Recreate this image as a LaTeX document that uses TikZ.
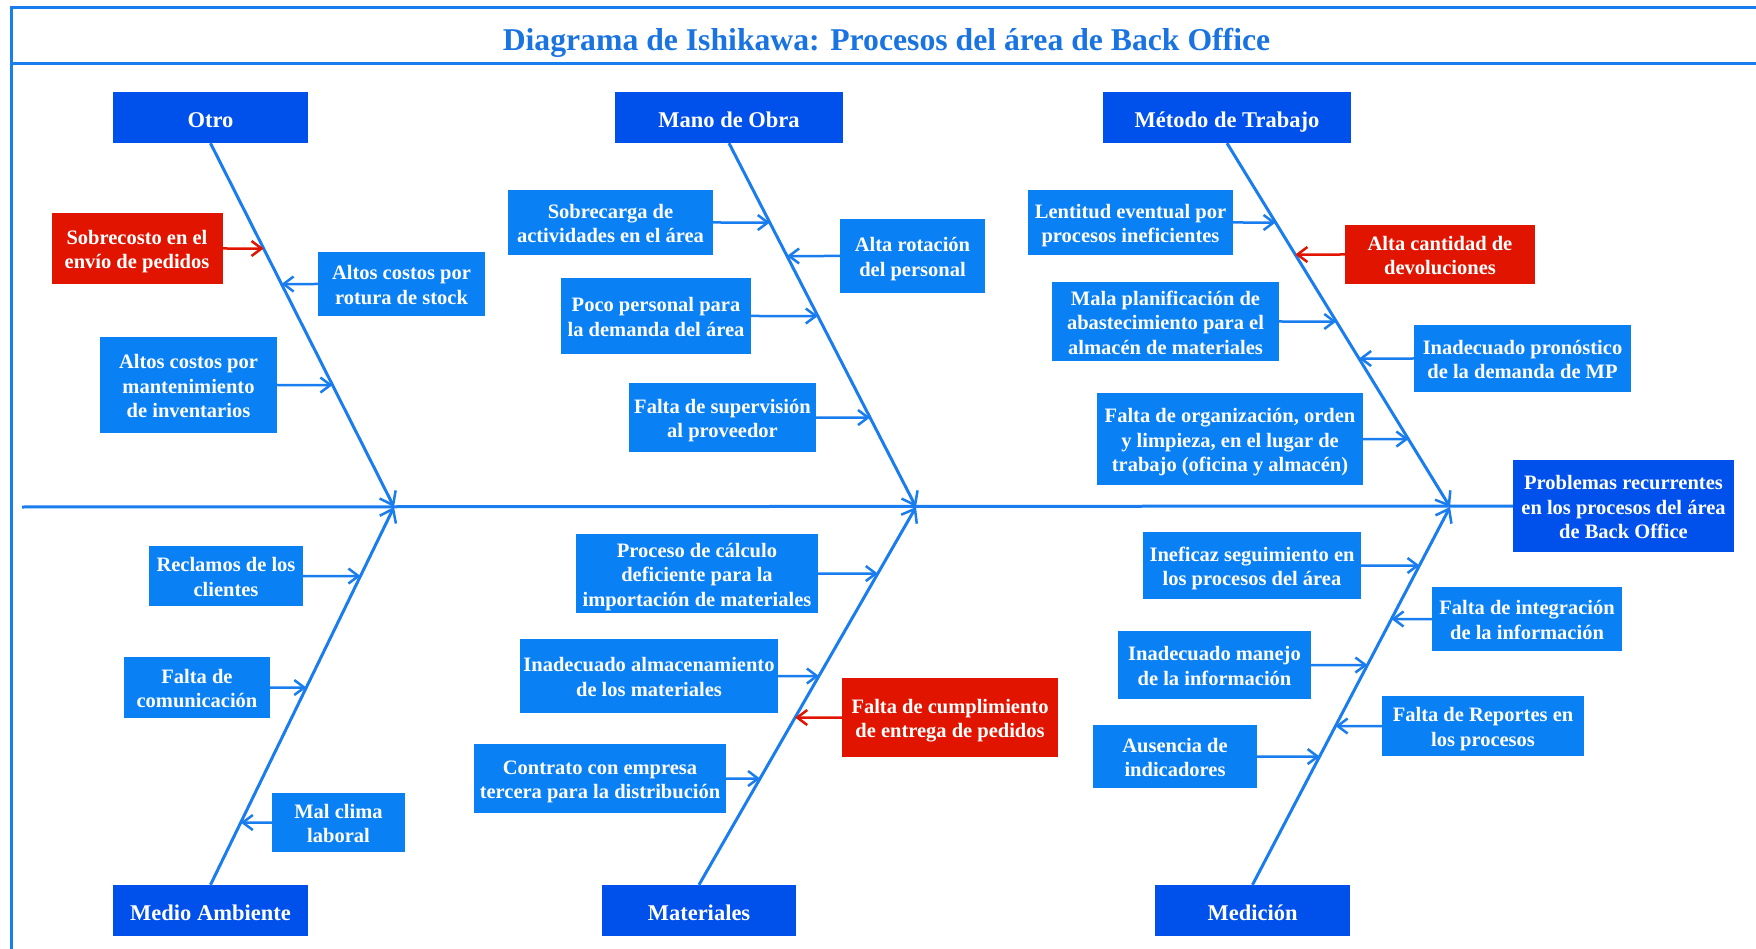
\documentclass[tikz,border=0pt]{standalone}
\usepackage{fontspec}
\setmainfont{Liberation Serif}
\usetikzlibrary{arrows.meta}

\definecolor{causeblue}{RGB}{10,128,245}
\definecolor{catblue}{RGB}{0,80,235}
\definecolor{alertred}{RGB}{225,20,0}
\definecolor{linkblue}{RGB}{25,125,240}
\definecolor{titleblue}{RGB}{25,115,225}

% text block with a fixed first-line height and last-line depth
\newcommand\blk[1]{\rule{0pt}{1.02em}#1\vphantom{gp}}

\tikzset{
  cause/.style={fill=causeblue, text=white, align=center, inner sep=0pt,
    font=\bfseries\fontsize{20.5}{24.6}\selectfont},
  alert/.style={cause, fill=alertred},
  category/.style={fill=catblue, text=white, align=center, inner sep=0pt,
    execute at begin node=\rule{0pt}{1.15em}, execute at end node=\vphantom{gp},
    font=\bfseries\fontsize{22.5}{27}\selectfont, minimum height=51pt},
  effect/.style={fill=catblue, text=white, align=center, inner sep=0pt,
    font=\bfseries\fontsize{20.5}{24.6}\selectfont},
  frame/.style={draw=linkblue, line width=3pt},
  bone/.style={draw=linkblue, line width=3pt,
    -{Straight Barb[length=12pt,width=18pt,line width=2.5pt]}},
  feed/.style={draw=linkblue, line width=2.5pt,
    -{Straight Barb[length=10pt,width=15pt]}},
  feedred/.style={feed, draw=alertred},
}

\begin{document}
\begin{tikzpicture}[x=1pt,y=-1pt]
\useasboundingbox (0,0) rectangle (1756,949);

% frame and title band
\draw[frame] (11,949) -- (11,8) -- (1756,8);
\draw[frame] (11,64) -- (1756,64);
\node[anchor=base, text=titleblue, font=\bfseries\fontsize{31.7}{38}\selectfont]
  (title) at (886.5,51) {Diagrama de Ishikawa: Procesos del área de Back Office};

% effect
\node[effect, minimum width=221pt, minimum height=92pt] (effect) at (1623.5,506)
  {\blk{Problemas recurrentes\\en los procesos del área\\de Back Office}};

% spine
\coordinate (start) at (22,507);
\coordinate (j1) at (394,507);
\coordinate (j2) at (916,507);
\coordinate (j3) at (1450,507);
\draw[frame] (start) -- (effect.west);

% categories
\node[category, minimum width=195pt] (otro) at (210.5,117.5) {Otro};
\node[category, minimum width=228pt] (mano) at (729,117.5) {Mano de Obra};
\node[category, minimum width=248pt] (metodo) at (1227,117.5) {Método de Trabajo};
\node[category, minimum width=195pt] (medio) at (210.5,910.5) {Medio Ambiente};
\node[category, minimum width=194pt] (mater) at (699,910.5) {Materiales};
\node[category, minimum width=195pt] (medic) at (1252.5,910.5) {Medición};

% bones
\draw[bone] (otro.south) -- (j1);
\draw[bone] (mano.south) -- (j2);
\draw[bone] (metodo.south) -- (j3);
\draw[bone] (medio.north) -- (j1);
\draw[bone] (mater.north) -- (j2);
\draw[bone] (medic.north) -- (j3);

% causes: Otro
\node[alert, minimum width=171pt, minimum height=71pt] (c1) at (137,248.5) {\blk{Sobrecosto en el\\envío de pedidos}};
\node[cause, minimum width=167pt, minimum height=64pt] (c2) at (401.5,284) {\blk{Altos costos por\\rotura de stock}};
\node[cause, minimum width=177pt, minimum height=96pt] (c3) at (188.5,385) {\blk{Altos costos por\\mantenimiento\\de inventarios}};
\draw[feedred] (c1.east) -- (intersection of c1.west--c1.east and otro.south--j1);
\draw[feed] (c2.west) -- (intersection of c2.west--c2.east and otro.south--j1);
\draw[feed] (c3.east) -- (intersection of c3.west--c3.east and otro.south--j1);

% causes: Mano de Obra
\node[cause, minimum width=205pt, minimum height=65pt] (c4) at (610.5,222.5) {\blk{Sobrecarga de\\actividades en el área}};
\node[cause, minimum width=145pt, minimum height=74pt] (c5) at (912.5,256) {\blk{Alta rotación\\del personal}};
\node[cause, minimum width=190pt, minimum height=76pt] (c6) at (656,316) {\blk{Poco personal para\\la demanda del área}};
\node[cause, minimum width=187pt, minimum height=69pt] (c7) at (722.5,417.5) {\blk{Falta de supervisión\\al proveedor}};
\draw[feed] (c4.east) -- (intersection of c4.west--c4.east and mano.south--j2);
\draw[feed] (c5.west) -- (intersection of c5.west--c5.east and mano.south--j2);
\draw[feed] (c6.east) -- (intersection of c6.west--c6.east and mano.south--j2);
\draw[feed] (c7.east) -- (intersection of c7.west--c7.east and mano.south--j2);

% causes: Método de Trabajo
\node[cause, minimum width=205pt, minimum height=65pt] (c8) at (1130.5,222.5) {\blk{Lentitud eventual por\\procesos ineficientes}};
\node[alert, minimum width=190pt, minimum height=59pt] (c9) at (1440,254.5) {\blk{Alta cantidad de\\devoluciones}};
\node[cause, minimum width=227pt, minimum height=79pt] (c10) at (1165.5,321.5) {\blk{Mala planificación de\\abastecimiento para el\\almacén de materiales}};
\node[cause, minimum width=217pt, minimum height=67pt] (c11) at (1522.5,358.5) {\blk{Inadecuado pronóstico\\de la demanda de MP}};
\node[cause, minimum width=266pt, minimum height=92pt] (c12) at (1230,439) {\blk{Falta de organización, orden\\y limpieza, en el lugar de\\trabajo (oficina y almacén)}};
\draw[feed] (c8.east) -- (intersection of c8.west--c8.east and metodo.south--j3);
\draw[feedred] (c9.west) -- (intersection of c9.west--c9.east and metodo.south--j3);
\draw[feed] (c10.east) -- (intersection of c10.west--c10.east and metodo.south--j3);
\draw[feed] (c11.west) -- (intersection of c11.west--c11.east and metodo.south--j3);
\draw[feed] (c12.east) -- (intersection of c12.west--c12.east and metodo.south--j3);

% causes: Medio Ambiente
\node[cause, minimum width=154pt, minimum height=60pt] (c13) at (226,576) {\blk{Reclamos de los\\clientes}};
\node[cause, minimum width=146pt, minimum height=61pt] (c14) at (197,687.5) {\blk{Falta de\\comunicación}};
\node[cause, minimum width=133pt, minimum height=59pt] (c15) at (338.5,822.5) {\blk{Mal clima\\laboral}};
\draw[feed] (c13.east) -- (intersection of c13.west--c13.east and medio.north--j1);
\draw[feed] (c14.east) -- (intersection of c14.west--c14.east and medio.north--j1);
\draw[feed] (c15.west) -- (intersection of c15.west--c15.east and medio.north--j1);

% causes: Materiales
\node[cause, minimum width=242pt, minimum height=79pt] (c16) at (697,573.5) {\blk{Proceso de cálculo\\deficiente para la\\importación de materiales}};
\node[cause, minimum width=258pt, minimum height=74pt] (c17) at (649,676) {\blk{Inadecuado almacenamiento\\de los materiales}};
\node[alert, minimum width=216pt, minimum height=79pt] (c18) at (950,717.5) {\blk{Falta de cumplimiento\\de entrega de pedidos}};
\node[cause, minimum width=252pt, minimum height=69pt] (c19) at (600,778.5) {\blk{Contrato con empresa\\tercera para la distribución}};
\draw[feed] (c16.east) -- (intersection of c16.west--c16.east and mater.north--j2);
\draw[feed] (c17.east) -- (intersection of c17.west--c17.east and mater.north--j2);
\draw[feedred] (c18.west) -- (intersection of c18.west--c18.east and mater.north--j2);
\draw[feed] (c19.east) -- (intersection of c19.west--c19.east and mater.north--j2);

% causes: Medición
\node[cause, minimum width=218pt, minimum height=67pt] (c20) at (1252,565.5) {\blk{Ineficaz seguimiento en\\los procesos del área}};
\node[cause, minimum width=190pt, minimum height=64pt] (c21) at (1527,619) {\blk{Falta de integración\\de la información}};
\node[cause, minimum width=193pt, minimum height=68pt] (c22) at (1214.5,665) {\blk{Inadecuado manejo\\de la información}};
\node[cause, minimum width=202pt, minimum height=60pt] (c23) at (1483,726) {\blk{Falta de Reportes en\\los procesos}};
\node[cause, minimum width=164pt, minimum height=63pt] (c24) at (1175,756.5) {\blk{Ausencia de\\indicadores}};
\draw[feed] (c20.east) -- (intersection of c20.west--c20.east and medic.north--j3);
\draw[feed] (c21.west) -- (intersection of c21.west--c21.east and medic.north--j3);
\draw[feed] (c22.east) -- (intersection of c22.west--c22.east and medic.north--j3);
\draw[feed] (c23.west) -- (intersection of c23.west--c23.east and medic.north--j3);
\draw[feed] (c24.east) -- (intersection of c24.west--c24.east and medic.north--j3);
\end{tikzpicture}
\end{document}
